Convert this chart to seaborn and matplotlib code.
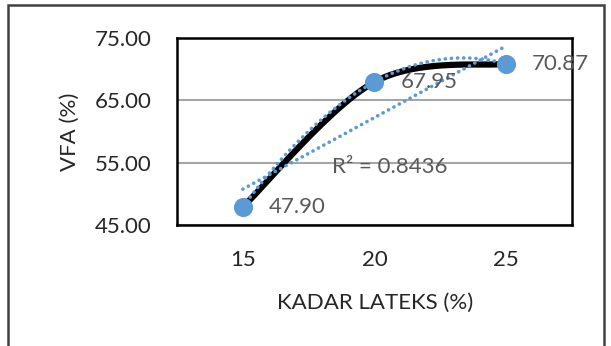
import numpy as np
import pandas as pd
import matplotlib
matplotlib.use("Agg")
import matplotlib.pyplot as plt
import seaborn as sns
from matplotlib.patches import Rectangle

# data
kadar = [15, 20, 25]
vfa = [47.90, 67.95, 70.87]
x_ticks = [15, 20, 25]
y_ticks = [45, 55, 65, 75]
r2_text = "R² = 0.8436"

sns.set_theme(style="white")
plt.rcParams['font.family'] = ['Lato', 'DejaVu Sans']

df = pd.DataFrame({"kadar": kadar, "vfa": vfa})

fig = plt.figure(figsize=(6.11, 3.46), dpi=100)
ax = fig.add_axes([177/611, 1-225/346, (572-177)/611, (225-38)/346])

# Excel-style smoothed line (Bezier through points)
def smooth(xs, ys, n=60):
    xs = np.asarray(xs, float); ys = np.asarray(ys, float)
    px = np.concatenate([[xs[0]], xs, [xs[-1]]])
    py = np.concatenate([[ys[0]], ys, [ys[-1]]])
    outx, outy = [], []
    t = np.linspace(0, 1, n)
    for i in range(1, len(px) - 2):
        p0 = np.array([px[i], py[i]]); p3 = np.array([px[i+1], py[i+1]])
        c1 = p0 + (p3 - np.array([px[i-1], py[i-1]])) / 6
        c2 = p3 - (np.array([px[i+2], py[i+2]]) - p0) / 6
        b = ((1-t)**3)[:, None]*p0 + (3*(1-t)**2*t)[:, None]*c1 + (3*(1-t)*t**2)[:, None]*c2 + (t**3)[:, None]*p3
        outx.extend(b[:, 0]); outy.extend(b[:, 1])
    return np.array(outx), np.array(outy)

sx, sy = smooth(kadar, vfa)
ax.plot(sx, sy, color="black", lw=4.5, solid_capstyle="butt", zorder=3)

blue = "#5B9BD5"
dots = dict(color=blue, lw=2.6, linestyle=(0, (0.05, 1.65)), dash_capstyle="round", zorder=4)
sns.regplot(data=df, x="kadar", y="vfa", order=2, ci=None, scatter=False, ax=ax, line_kws=dots)
sns.regplot(data=df, x="kadar", y="vfa", order=1, ci=None, scatter=False, ax=ax, line_kws=dots)
sns.scatterplot(data=df, x="kadar", y="vfa", ax=ax, color=blue, s=190, edgecolor=blue, linewidth=0, zorder=5)

for xv, yv in zip(kadar, vfa):
    ax.annotate(f"{yv:.2f}", (xv, yv), xytext=(26, 0), textcoords="offset pixels",
                ha="left", va="center", fontsize=16, color="#595959", zorder=6)

ax.text(332/611, 1-167/346, r2_text, transform=fig.transFigure, ha="left", va="center",
        fontsize=16, color="#595959", zorder=6)

ax.set_xlim(12.5, 27.5)
ax.set_ylim(45, 75)
ax.set_xticks(x_ticks)
ax.set_yticks(y_ticks)
ax.set_yticklabels([f"{v:.2f}" for v in y_ticks])
ax.tick_params(axis="both", length=0, labelsize=16, labelcolor="#262626")
ax.tick_params(axis="y", pad=18)
ax.tick_params(axis="x", pad=18)
ax.yaxis.grid(True, color="#A6A6A6", lw=1.5)
ax.set_axisbelow(True)
for s in ax.spines.values():
    s.set_color("black"); s.set_linewidth(1.8); s.set_visible(True)
ax.set_xlabel("KADAR LATEKS (%)", fontsize=16, color="#262626")
ax.set_ylabel("VFA (%)", fontsize=16, color="#262626")
ax.xaxis.set_label_coords((375-177)/395, -(293-225)/187)
ax.yaxis.set_label_coords(-(177-80)/395, 0.5)

fig.patches.append(Rectangle((8/611, -0.1), (604-8)/611, 1.1 - 5/346, transform=fig.transFigure,
                             fill=False, edgecolor="#404040", lw=1.8))

fig.savefig("out.png", dpi=100)
